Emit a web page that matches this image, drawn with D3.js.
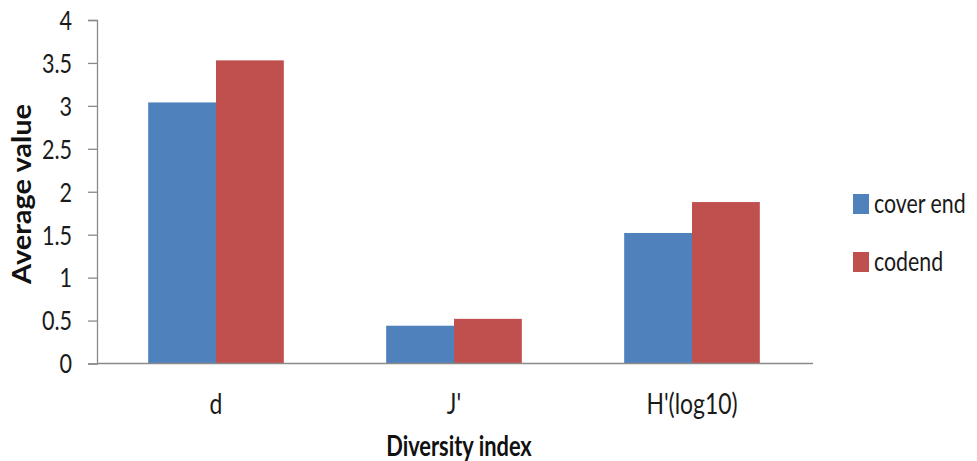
<!DOCTYPE html>
<html>
<head>
<meta charset="utf-8">
<script src="https://cdn.jsdelivr.net/npm/d3@7"></script>
<style>
  html, body { margin: 0; padding: 0; background: #fff; }
  svg { display: block; font-family: Lato, "Open Sans", sans-serif; }
</style>
</head>
<body>
<svg id="chart" width="977" height="461"></svg>
<script>
// Diversity indices, averaged per sampling position
const categories = ["d", "J'", "H'(log10)"];
const seriesNames = ["cover end", "codend"];
const coverEnd = [3.04, 0.44, 1.52];
const codend = [3.53, 0.52, 1.88];
const yTicks = [0, 0.5, 1, 1.5, 2, 2.5, 3, 3.5, 4];
const seriesColors = ["#4F81BD", "#C0504D"];

const series = [coverEnd, codend];
const svg = d3.select("#chart");

const plot = { left: 97, right: 811, top: 20, bottom: 363.5 };

const x = d3.scaleBand()
  .domain(categories)
  .range([plot.left, plot.right])
  .paddingInner(0.43)
  .paddingOuter(0.215);

const xSub = d3.scaleBand()
  .domain(seriesNames)
  .range([0, x.bandwidth()]);

const y = d3.scaleLinear()
  .domain([0, 4])
  .range([plot.bottom, plot.top]);

// narrow the lettering horizontally around each text's own anchor x
function squeeze(sel, sx) {
  sel.each(function () {
    const x0 = +this.getAttribute("x") || 0;
    d3.select(this).attr("transform", `translate(${x0 * (1 - sx)},0) scale(${sx},1)`);
  });
}

// bars
const groups = svg.append("g").selectAll("g")
  .data(categories)
  .join("g")
  .attr("transform", d => `translate(${x(d)},0)`);

groups.selectAll("rect")
  .data((c, i) => series.map((s, k) => ({ name: seriesNames[k], value: s[i], k })))
  .join("rect")
  .attr("x", d => xSub(d.name))
  .attr("width", xSub.bandwidth())
  .attr("y", d => y(d.value))
  .attr("height", d => y(0) - y(d.value))
  .attr("fill", d => seriesColors[d.k]);

// y axis
const yAxis = svg.append("g")
  .attr("transform", `translate(${plot.left},0)`)
  .call(d3.axisLeft(y).tickValues(yTicks).tickSize(9).tickPadding(16)
    .tickFormat(d => String(d)));
yAxis.select(".domain").attr("stroke", "#8a8a8a").attr("stroke-width", 1.3);
yAxis.selectAll(".tick line").attr("stroke", "#8a8a8a").attr("stroke-width", 1.3);
yAxis.selectAll(".tick text")
  .attr("font-family", "Lato, sans-serif")
  .attr("font-size", 26)
  .attr("fill", "#1a1a1a")
  .attr("dy", "0.36em")
  .call(squeeze, 0.83);

// x axis baseline
svg.append("line")
  .attr("x1", plot.left).attr("x2", plot.right + 2)
  .attr("y1", y(0)).attr("y2", y(0))
  .attr("stroke", "#8a8a8a").attr("stroke-width", 1.3);

// category labels
svg.append("g").selectAll("text")
  .data(categories)
  .join("text")
  .attr("x", d => x(d) + x.bandwidth() / 2)
  .attr("y", 414)
  .attr("text-anchor", "middle")
  .attr("font-size", 29)
  .attr("fill", "#1a1a1a")
  .text(d => d)
  .call(squeeze, 0.79);

// axis titles
svg.append("text")
  .attr("transform", "translate(31,194) rotate(-90)")
  .attr("text-anchor", "middle")
  .attr("font-size", 27)
  .attr("font-weight", "bold")
  .attr("fill", "#111")
  .attr("textLength", 180)
  .attr("lengthAdjust", "spacingAndGlyphs")
  .text("Average value");

svg.append("text")
  .attr("x", 459)
  .attr("y", 456)
  .attr("text-anchor", "middle")
  .attr("font-size", 28)
  .attr("font-weight", "bold")
  .attr("fill", "#111")
  .text("Diversity index")
  .call(squeeze, 0.78);

// legend
const legend = svg.append("g").selectAll("g")
  .data(seriesNames)
  .join("g")
  .attr("transform", (d, i) => `translate(853,${194 + i * 58})`);

legend.append("rect")
  .attr("width", 16).attr("height", 20)
  .attr("fill", (d, i) => seriesColors[i]);

legend.append("text")
  .attr("x", 21)
  .attr("y", 19)
  .attr("font-size", 27)
  .attr("fill", "#1a1a1a")
  .text(d => d)
  .call(squeeze, 0.79);
</script>
</body>
</html>
